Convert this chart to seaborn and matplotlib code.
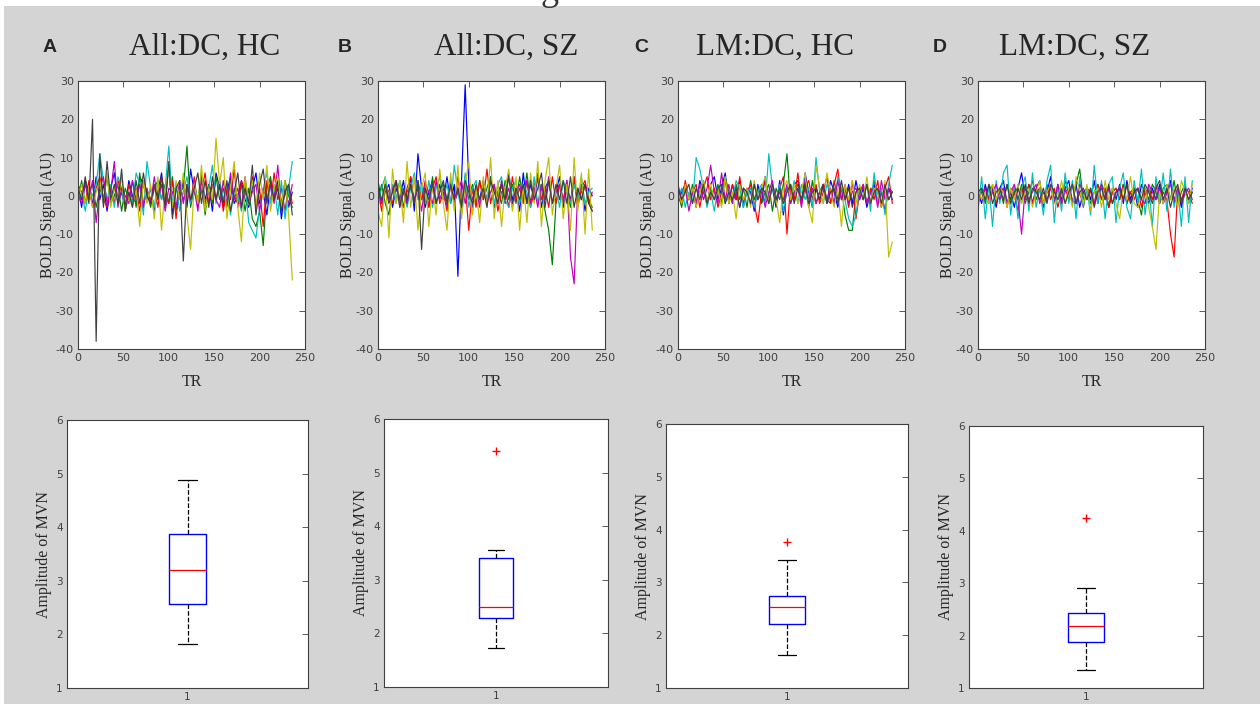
import numpy as np
import pandas as pd
import matplotlib
matplotlib.use("Agg")
import matplotlib.pyplot as plt
from matplotlib.patches import Rectangle
import seaborn as sns

sns.set_style("white")
plt.rcParams["axes.unicode_minus"] = False

# one sample every 4 TR
TR_STEP = 4

titles = ["All:DC, HC", "All:DC, SZ", "LM:DC, HC", "LM:DC, SZ"]
letters = ["A", "B", "C", "D"]
series_names = ["b", "g", "r", "c", "m", "y", "k"]
matlab_colors = ["#0000ff", "#008000", "#ff0000", "#00bfbf", "#bf00bf", "#bfbf00", "#404040"]

# BOLD signal, panel A (All:DC, HC)
sig_a = {
    "b": "2 -3 4 1 -2 5 -1 3 -4 2  6 -2 1 -3 4 0 -2 5 3 -1  2 -4 1 6 -2 8 -5 2 -1 4  -3 7 1 -2 5 -1 3 -4 6 2  -3 1 5 -2 0 4 -1 -3 2 6  -2 1 -5 3 0 4 -6 2 -3 1",
    "g": "-1 4 -2 1 3 -3 2 -1 5 -2  0 3 -4 2 -1 4 -3 6 -2 1  -3 2 4 -1 3 -2 5 -4 1 2  13 -3 2 -1 4 -5 3 -2 5 -1  2 -3 4 0 -2 3 -4 2 -6 -8  -4 -13 2 5 -1 3 -2 4 0 -3",
    "r": "3 1 -2 4 -3 2 5 -1 -3 2  -2 4 1 -3 3 -1 2 -4 4 1  -1 3 -3 5 0 -2 4 -6 3 -1  2 -2 5 -3 1 6 -2 3 -1 4  -4 2 -1 7 -3 4 1 -2 5 -3  2 -8 4 -2 6 -1 2 -4 3 -2",
    "c": "-2 1 -4 2 0 3 11 4 -1 3  -3 5 2 -4 1 -2 6 3 -5 9  2 -3 4 -1 2 13 -2 3 -4 1  5 -2 3 -1 6 -3 2 8 -2 4  -1 3 -5 2 0 -4 4 -7 -9 -11  -3 2 6 -2 3 -5 4 -6 2 9",
    "m": "1 -2 3 -1 4 -7 2 5 -2 1  9 -3 2 0 -2 4 -1 3 -3 2  -2 5 -1 3 -4 2 1 -3 4 -2  3 -1 2 -4 5 -2 1 3 -1 -3  4 -2 6 -1 2 -3 5 -2 1 3  -4 2 -1 3 -2 8 -3 1 -2 3",
    "y": "-1 3 -2 2 -3 1 4 -2 6 -3  2 -1 5 -4 0 -3 2 -8 4 -2  3 -6 5 -9 2 7 -3 4 -1 6  -5 -14 3 -2 8 -4 2 -1 15 3  10 -6 2 9 -3 -12 5 -2 4 -3  6 -1 8 -4 2 5 -3 4 -5 -22",
    "k": "2 -1 5 -2 20 -38 11 -3 9 -1  3 -2 7 -4 1 -3 4 -2 6 0  -2 3 -1 5 -3 9 -6 2 4 -17  3 -1 2 6 -2 4 -3 5 -1 3  -2 4 -4 1 6 -3 2 -2 8 -5  3 7 -2 4 -1 2 -4 1 3 -5",
}

# panel B (All:DC, SZ)
sig_b = {
    "b": "4 -2 1 3 -3 2 -1 4 -2 5  -4 11 2 -3 1 4 -2 3 -1 5  -2 3 -21 4 29 3 -3 2 -1 4  -2 5 -3 1 3 -2 6 -1 2 -4  6 -2 3 -1 5 -3 2 4 -2 1  5 -3 2 -1 4 -2 3 -4 2 0",
    "g": "-1 3 -2 -5 2 -1 4 -3 1 3  -2 4 -1 2 -3 5 -2 1 3 -1  4 -2 2 -3 5 -1 3 -2 4 -1  2 5 -3 1 -2 4 -1 3 -2 5  -1 6 -2 3 4 2 -4 -9 -18 -2  3 -1 2 -3 5 -2 1 3 -1 -3",
    "r": "2 -4 3 1 -2 4 -1 -3 2 5  -2 3 -1 4 -3 2 5 -2 1 -4  3 -1 5 -2 3 -9 2 -3 4 -1  7 -2 3 -4 1 2 -3 5 -1 2  -2 4 -3 1 6 -1 2 -3 5 -2  3 -1 4 -2 5 -3 2 4 -1 -4",
    "c": "-3 2 5 -1 3 -2 4 1 -3 2  6 -1 3 -2 4 -3 2 5 -1 3  -2 8 1 -4 6 -3 2 4 -2 3  -1 4 -2 3 5 -1 -3 2 4 -2  3 1 -3 5 -2 3 -1 4 -2 2  -3 4 1 -2 3 -1 5 -2 1 2",
    "m": "1 -2 3 -1 2 4 -3 1 -2 3  -1 2 -4 3 1 -2 4 -1 2 -3  3 -2 1 4 -2 3 -1 2 -3 4  -2 1 3 -2 4 -1 2 -3 1 3  -1 4 -2 2 -3 3 -1 5 -2 1  3 -2 4 -16 -23 2 -1 3 -2 1",
    "y": "-4 -8 5 -11 7 -2 4 -7 9 -3  5 -9 2 6 -8 3 -5 7 -2 -9  6 -4 8 -6 3 9 -5 2 -7 5  -3 10 -6 4 -8 2 7 -4 5 -9  3 -7 6 -2 9 -8 4 10 -5 2  8 -6 3 -9 10 -4 6 -10 7 -9",
    "k": "2 -1 3 -2 1 4 -3 2 -1 3  -2 4 -14 2 -1 3 -2 1 4 -2  3 -1 2 -3 4 1 -2 3 -1 2  -3 4 1 -2 3 -1 5 -2 2 -1  3 -2 4 -1 2 6 -3 4 -2 3  -1 4 -2 5 -3 2 -1 3 -2 -4",
}

# panel C (LM:DC, HC)
sig_c = {
    "b": "-2 1 3 -1 2 -3 4 1 -2 3  5 -1 2 6 -2 3 -1 4 -3 2  1 -4 3 -2 5 -1 2 -3 4 -5  2 -1 3 4 -2 6 1 -3 2 -1  3 -2 4 1 -3 2 -1 3 -2 4  -1 2 -3 1 3 -2 1 -4 2 -1",
    "g": "1 -3 2 -1 3 -2 1 4 -2 2  -1 3 -2 5 1 -2 3 -1 2 -3  4 -1 2 -2 1 3 -4 2 -1 3  11 -2 1 3 -1 2 -3 4 -2 1  3 -1 -2 4 -1 2 -5 -9 -9 1  2 -1 3 -2 4 1 -3 2 -1 1",
    "r": "2 -2 4 -1 1 3 -3 2 5 -1  2 -3 1 4 -2 3 -1 5 -2 1  3 -2 -7 1 4 -2 3 -1 2 5  -10 3 -1 6 -2 2 4 -1 3 -2  1 5 -2 3 7 -1 2 -3 4 -6  1 3 -2 2 -1 4 -3 2 5 -2",
    "c": "-1 2 -3 1 -2 10 7 2 -3 1  -4 2 3 -2 1 -1 4 2 -3 1  2 -3 1 3 -2 11 2 -1 3 -4  2 -1 4 -2 3 -1 2 -3 10 1  -2 3 1 -2 5 2 -1 -6 -8 -5  2 -1 3 -4 6 -2 2 -5 3 8",
    "m": "3 -1 2 -4 1 -2 3 -1 2 8  1 -2 6 -1 3 -2 1 -3 2 1  -2 3 -1 2 -3 1 4 -2 1 -1  3 -2 1 2 -3 4 -1 2 -2 1  3 -1 2 -2 4 -1 3 -2 1 2  -1 3 -2 1 2 -3 4 -1 2 1",
    "y": "1 -2 3 -1 2 -3 1 4 -2 3  -1 2 -3 5 -2 1 -6 3 -1 2  -3 4 -1 2 5 -2 3 -1 -7 2  4 -1 3 -2 1 6 -3 -7 8 2  -2 6 1 -3 2 -8 3 -1 4 -2  3 -1 5 -2 2 1 -3 4 -16 -12",
    "k": "2 -1 1 3 -2 2 -1 3 -2 1  -1 2 3 -2 1 -1 2 -3 2 1  -2 3 -1 2 1 -2 3 -1 2 -2  1 3 -2 2 -1 3 -2 1 2 -1  3 -2 1 2 -2 4 -1 2 -3 1  2 -1 3 -2 1 2 -2 3 -1 1",
}

# panel D (LM:DC, SZ)
sig_d = {
    "b": "1 -2 3 -1 2 -3 2 4 -2 1  -3 2 6 -1 3 -2 2 4 -3 1  5 -2 3 -1 2 4 -2 3 -3 1  2 -1 4 -2 3 1 -3 2 -1 3  -2 4 -1 2 -3 3 1 -2 2 -1  3 -2 1 4 -2 2 -3 1 -1 2",
    "g": "-1 2 -2 3 1 -1 2 -2 3 -1  2 -1 3 -2 1 4 -1 2 -2 1  3 -1 2 -2 4 1 -2 3 7 -1  2 -2 1 3 -1 2 -3 1 2 -1  3 -2 1 2 -1 -5 2 -1 3 1  -2 2 3 -1 4 -2 1 3 -2 1",
    "r": "-2 1 2 -1 3 -2 1 2 -3 2  1 -4 2 -1 3 -2 1 2 -2 3  -1 2 -3 1 2 -1 3 -2 1 -3  2 1 -2 3 -1 2 -3 1 2 -1  3 -2 1 -1 2 -3 1 2 -1 3  -2 1 -1 -10 -16 2 -1 2 1 -2",
    "c": "-4 5 -6 3 -8 4 -2 6 8 -5  3 -6 2 5 -4 6 -3 2 -5 4  8 -7 3 -4 6 -2 4 -6 5 -3  2 -5 8 -2 4 -6 3 5 -7 2  6 -3 -6 4 -2 7 -5 3 -8 5  -2 6 -4 7 -3 2 -8 5 -7 4",
    "m": "1 -1 2 -2 1 3 -1 2 -2 1  3 -1 -10 2 -1 1 3 -2 1 -1  2 -1 3 -2 1 2 -1 -2 3 1  -1 2 -2 1 3 -1 2 -2 1 2  -1 3 -2 1 2 -1 -2 3 1 -1  2 -2 1 3 -1 2 -2 1 2 -1",
    "y": "2 -1 1 -2 3 -1 2 1 -3 2  -1 3 -2 1 2 -3 1 4 -2 1  3 -2 -1 4 -2 2 -3 5 1 -2  3 -4 1 2 -3 4 -1 2 -2 -6  2 -1 5 -2 -3 1 2 -3 -8 -14  1 -2 3 -1 2 -3 4 1 -2 3",
    "k": "1 2 -1 3 -2 1 2 -1 3 -2  1 2 -1 3 -2 2 1 -1 2 -2  3 1 -1 2 -2 1 3 -2 1 2  -1 2 -3 1 2 -1 3 -2 1 2  -1 3 -2 1 2 -1 3 1 -2 2  4 -1 2 -3 1 3 -2 2 -1 1",
}

# amplitude of MVN per subject group (estimated so the box stats match)
mvn_a = [1.82, 2.3, 2.56, 2.9, 3.2, 3.5, 3.87, 4.3, 4.88]
mvn_b = [1.73, 2.1, 2.28, 2.4, 2.49, 3.0, 3.40, 3.56, 5.41]
mvn_c = [1.62, 2.0, 2.22, 2.4, 2.54, 2.65, 2.75, 3.42, 3.76]
mvn_d = [1.34, 1.7, 1.87, 2.0, 2.19, 2.3, 2.44, 2.90, 4.24]

signals = [sig_a, sig_b, sig_c, sig_d]
amplitudes = [mvn_a, mvn_b, mvn_c, mvn_d]

SERIF = "Liberation Serif"
TICK_COL = "#404040"
W, H = 1260, 704


def to_frame(sig):
    rows = []
    for name in series_names:
        vals = [float(v) for v in sig[name].split()]
        for i, v in enumerate(vals):
            rows.append((i * TR_STEP, v, name))
    return pd.DataFrame(rows, columns=["TR", "signal", "series"])


def px_axes(fig, x0, y0, x1, y1):
    return fig.add_axes([x0 / W, 1 - y1 / H, (x1 - x0) / W, (y1 - y0) / H])


def style(ax, labelsize):
    ax.set_facecolor("white")
    for s in ax.spines.values():
        s.set_color(TICK_COL)
        s.set_linewidth(0.8)
    ax.tick_params(direction="in", length=4, width=0.6, color=TICK_COL,
                   top=True, right=True, labelsize=labelsize,
                   labelcolor=TICK_COL, pad=3)


fig = plt.figure(figsize=(W / 100, H / 100), dpi=100, facecolor="white")
fig.add_artist(Rectangle((4 / W, 0), 1, 1 - 6 / H, transform=fig.transFigure,
                         facecolor="#d4d4d4", edgecolor="none", zorder=-10))
# partial heading letter cut by the top edge, as in the source figure
fig.text(550 / W, 1.0, "g", fontsize=26, family=SERIF, va="baseline", ha="center",
         color="#333333")

top_boxes = [(78, 81, 305, 349), (378, 81, 605, 349), (678, 81, 905, 349), (978, 81, 1205, 349)]
bot_boxes = [(67, 420, 308, 688), (384, 419, 608, 687), (666, 424, 908, 688), (969, 426, 1203, 688)]
letter_x = [50, 345, 641, 940]
title_x = [205, 506, 775, 1075]

for k in range(4):
    # time series panel
    ax = px_axes(fig, *top_boxes[k])
    df = to_frame(signals[k])
    sns.lineplot(data=df, x="TR", y="signal", hue="series", hue_order=series_names,
                 palette=matlab_colors, legend=False, estimator=None, lw=0.85, ax=ax)
    ax.set_xlim(0, 250)
    ax.set_ylim(-40, 30)
    ax.set_xticks(range(0, 251, 50))
    ax.set_yticks(range(-40, 31, 10))
    style(ax, 8)
    ax.set_xlabel("TR", family=SERIF, fontsize=11.5, labelpad=8)
    ax.set_ylabel("BOLD Signal (AU)", family=SERIF, fontsize=11.5, labelpad=0)

    # box plot panel
    bx = px_axes(fig, *bot_boxes[k])
    vals = amplitudes[k]
    sns.boxplot(x=["1"] * len(vals), y=vals, ax=bx, width=0.15, fill=False,
                linewidth=1.0, whis=1.5,
                boxprops=dict(color="blue", linewidth=1.0),
                whiskerprops=dict(color="black", linestyle="--", linewidth=0.9),
                capprops=dict(color="black", linewidth=0.9),
                medianprops=dict(color="red", linewidth=0.9),
                flierprops=dict(marker="+", markeredgecolor="red",
                                markerfacecolor="red", markersize=6,
                                markeredgewidth=1.0))
    bx.set_xlim(-0.5, 0.5)
    bx.set_ylim(1, 6)
    bx.set_yticks(range(1, 7))
    style(bx, 7.5)
    bx.tick_params(axis="x", length=0)
    bx.set_ylabel("Amplitude of MVN", family=SERIF, fontsize=11.5, labelpad=3)
    bx.set_xlabel("")

    # panel letter and title
    fig.text(letter_x[k] / W, 1 - 47 / H, letters[k], fontsize=14, fontweight="bold",
             family="Liberation Sans", ha="center", va="center")
    fig.text(title_x[k] / W, 1 - 47 / H, titles[k], fontsize=22.5, family=SERIF,
             ha="center", va="center")

fig.savefig("out.png", dpi=100, facecolor=fig.get_facecolor())
